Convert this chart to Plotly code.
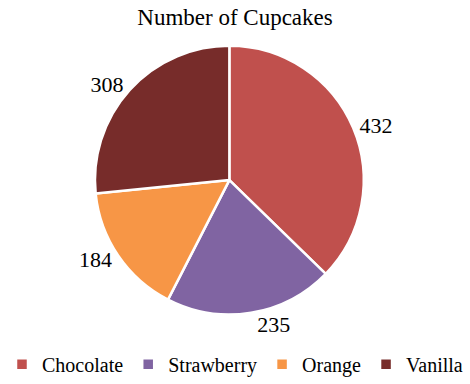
import plotly.graph_objects as go

# Cupcake counts by flavour
flavours = ["Chocolate", "Strawberry", "Orange", "Vanilla"]
counts = [432, 235, 184, 308]
slice_colors = ["#C0504D", "#8064A2", "#F79646", "#772C2A"]

fig = go.Figure(
    go.Pie(
        labels=flavours,
        values=counts,
        sort=False,
        direction="clockwise",
        rotation=0,
        marker=dict(colors=slice_colors, line=dict(color="white", width=2.5)),
        textinfo="value",
        textposition="outside",
        textfont=dict(family="Liberation Serif", size=22, color="black"),
        hoverinfo="label+value",
        domain=dict(x=[0.198, 0.778], y=[0.168, 0.879]),
    )
)

fig.update_layout(
    width=470,
    height=384,
    margin=dict(l=0, r=0, t=0, b=0),
    paper_bgcolor="white",
    font=dict(family="Liberation Serif", color="black"),
    title=dict(
        text="Number of Cupcakes",
        x=0.5,
        xanchor="center",
        y=0.955,
        yanchor="middle",
        font=dict(family="Liberation Serif", size=23, color="black"),
    ),
    legend=dict(
        orientation="h",
        x=0.5,
        xanchor="center",
        y=-0.015,
        yanchor="bottom",
        font=dict(family="Liberation Serif", size=20, color="black"),
        itemwidth=30,
    ),
)

fig.write_html("out.html")
